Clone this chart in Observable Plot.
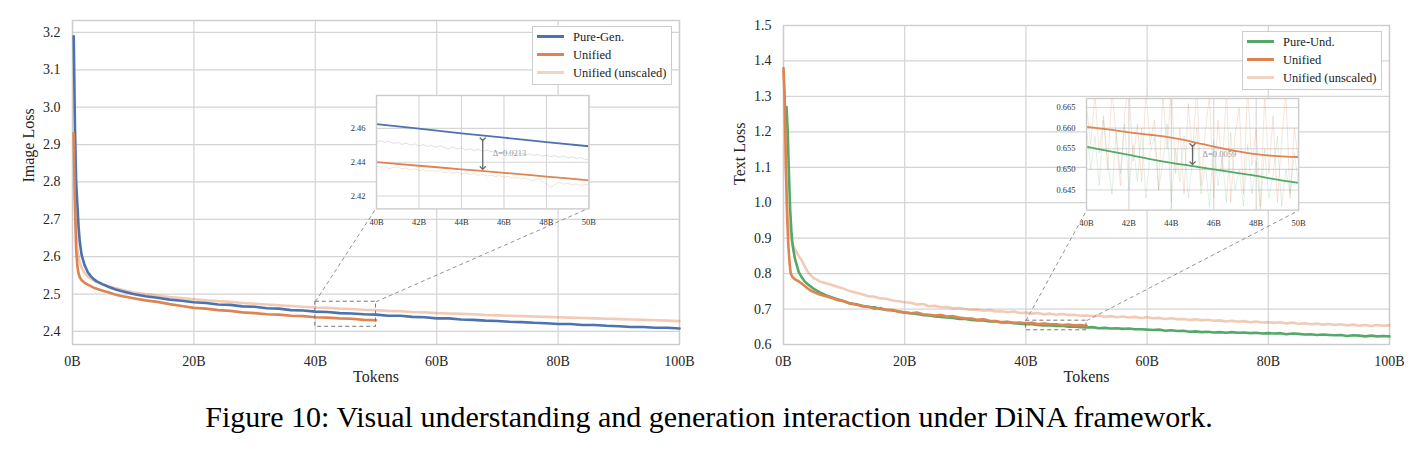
<!DOCTYPE html>
<html><head><meta charset="utf-8">
<script src="https://cdn.jsdelivr.net/npm/d3@7"></script>
<script src="https://cdn.jsdelivr.net/npm/@observablehq/plot@0.6"></script>
<style>
body{margin:0;background:#fff;}
#fig{position:relative;width:1418px;height:451px;overflow:hidden;font-family:"Liberation Serif",serif;background:#fff;}
.panel{position:absolute;top:0;width:718px;height:400px;}
.panel svg{position:absolute;}
.legend{position:absolute;width:140px;height:59px;border:1px solid #ccc;background:#fff;box-sizing:border-box;}
.legend .sw{position:absolute;left:4px;width:27px;height:2.8px;}
.legend .lb{position:absolute;left:40px;font-size:12.5px;line-height:16px;color:#222;white-space:nowrap;}
#caption{position:absolute;left:0;width:1418px;top:399px;text-align:center;font-size:30px;line-height:36px;color:#000;}
</style></head><body>
<div id="fig">
<div id="left" class="panel" style="left:0px"></div>
<div id="right" class="panel" style="left:700px"></div>
<div id="caption">Figure 10: Visual understanding and generation interaction under DiNA framework.</div>
</div>
<script>
const FONT = "Liberation Serif";
const BLUE = "#4C72B0", ORANGE = "#DD8452", GREEN = "#55A868";

// ---------- shared ----------
const mainXTicks = [0, 20, 40, 60, 80, 100];
const insetXTicks = [40, 42, 44, 46, 48, 50];
const insetBox = {x0: 0.5, x1: 0.85, y0: 0.42, y1: 0.77}; // axes fractions

// ---------- left panel (Image Loss) ----------
const imgYTicks = [2.4, 2.5, 2.6, 2.7, 2.8, 2.9, 3.0, 3.1, 3.2];
const imgYDomain = [2.365, 3.232];
const imgEarlyTokens = [0.2, 0.4, 0.6, 0.8, 1.0, 1.2, 1.5, 2, 2.5, 3, 3.5, 4, 5, 6, 7, 8, 9];
const imgTokens = imgEarlyTokens.concat(d3.range(10, 101, 2));
const pureGenLoss = [3.19, 2.95, 2.80, 2.74, 2.68, 2.64, 2.605, 2.577, 2.559, 2.548, 2.540, 2.534, 2.526, 2.519, 2.513, 2.508, 2.504,
  2.500, 2.494, 2.490, 2.485, 2.482, 2.478, 2.476, 2.472, 2.471, 2.467, 2.466, 2.462, 2.461, 2.457, 2.456, 2.453,
  2.452, 2.449, 2.448, 2.446, 2.445, 2.442, 2.442, 2.439, 2.438, 2.435, 2.435, 2.432, 2.431, 2.429, 2.428, 2.426,
  2.425, 2.423, 2.422, 2.420, 2.420, 2.417, 2.417, 2.415, 2.414, 2.412, 2.412, 2.410, 2.410, 2.408];
const unifiedImgLoss = [2.93, 2.74, 2.62, 2.575, 2.555, 2.545, 2.537, 2.530, 2.525, 2.521, 2.517, 2.514, 2.509, 2.504, 2.499, 2.495, 2.492,
  2.489, 2.483, 2.479, 2.473, 2.468, 2.463, 2.461, 2.457, 2.455, 2.451, 2.449, 2.446, 2.445, 2.442, 2.441, 2.438,
  2.437, 2.435, 2.434, 2.431, 2.430];
const unifiedImgRawLoss = [2.93, 2.78, 2.67, 2.62, 2.60, 2.585, 2.57, 2.556, 2.547, 2.541, 2.536, 2.532, 2.526, 2.521, 2.516, 2.512, 2.508,
  2.505, 2.500, 2.496, 2.492, 2.489, 2.486, 2.483, 2.481, 2.479, 2.476, 2.474, 2.472, 2.470, 2.468, 2.466, 2.464,
  2.463, 2.461, 2.460, 2.458, 2.457, 2.455, 2.454, 2.452, 2.451, 2.449, 2.448, 2.447, 2.446, 2.444, 2.443, 2.442,
  2.441, 2.440, 2.439, 2.438, 2.437, 2.436, 2.435, 2.434, 2.433, 2.432, 2.431, 2.430, 2.429, 2.4275];
const imgZoomY = [2.4124, 2.4794];
const imgInsetYTicks = [2.42, 2.44, 2.46];
const imgInsetTokens = [40, 42, 44, 46, 48, 50];
const pureGenInset = [2.4625, 2.4598, 2.4570, 2.4545, 2.4519, 2.4494];
const unifiedImgInset = [2.4400, 2.4379, 2.4358, 2.4337, 2.4315, 2.4293];
const insetRawTokens = d3.range(51).map(i => 40 + i * 0.2);
const pureGenInsetRaw = [2.4520, 2.4527, 2.4517, 2.4523, 2.4511, 2.4517, 2.4505, 2.4513, 2.4501, 2.4508,
  2.4496, 2.4504, 2.4493, 2.4499, 2.4489, 2.4497, 2.4486, 2.4479, 2.4490, 2.4478,
  2.4485, 2.4472, 2.4480, 2.4469, 2.4476, 2.4464, 2.4471, 2.4462, 2.4467, 2.4454,
  2.4462, 2.4451, 2.4458, 2.4446, 2.4453, 2.4443, 2.4450, 2.4439, 2.4446, 2.4435,
  2.4442, 2.4432, 2.4439, 2.4429, 2.4436, 2.4426, 2.4431, 2.4421, 2.4427, 2.4417, 2.4416];
const unifiedImgInsetRaw = [2.4378, 2.4370, 2.4375, 2.4362, 2.4369, 2.4372, 2.4360, 2.4366, 2.4355, 2.4361,
  2.4350, 2.4357, 2.4346, 2.4352, 2.4343, 2.4349, 2.4338, 2.4344, 2.4334, 2.4341,
  2.4330, 2.4337, 2.4327, 2.4333, 2.4322, 2.4330, 2.4318, 2.4325, 2.4316, 2.4321,
  2.4310, 2.4317, 2.4305, 2.4312, 2.4300, 2.4307, 2.4296, 2.4290, 2.4302, 2.4285,
  2.4272, 2.4250, 2.4268, 2.4280, 2.4270, 2.4276, 2.4265, 2.4272, 2.4262, 2.4268, 2.4265];
const imgDelta = [{x: 45, y1: 2.4535, y2: 2.4365, label: "Δ=0.0213"}];

// ---------- right panel (Text Loss) ----------
const txtYTicks = [0.6, 0.7, 0.8, 0.9, 1.0, 1.1, 1.2, 1.3, 1.4, 1.5];
const txtYDomain = [0.6, 1.5];
const undTokens = [0.5, 0.7, 0.9, 1.1, 1.3, 1.5, 1.8, 2, 2.5, 3, 3.5, 4, 5, 6, 7, 8, 9].concat(d3.range(10, 101));
const pureUndLoss = [1.27, 1.20, 1.08, 0.98, 0.92, 0.88, 0.85, 0.835, 0.805, 0.79, 0.778, 0.77, 0.757, 0.747, 0.739, 0.733, 0.727,
  0.722, 0.716, 0.713, 0.709, 0.706, 0.705, 0.700, 0.698, 0.696, 0.693,
  0.690, 0.688, 0.686, 0.683, 0.682, 0.679, 0.678, 0.676, 0.675, 0.672,
  0.672, 0.669, 0.668, 0.668, 0.665, 0.665, 0.662, 0.663, 0.660, 0.659,
  0.657, 0.657, 0.655, 0.654, 0.654, 0.652, 0.653, 0.650, 0.651, 0.649,
  0.648, 0.649, 0.646, 0.647, 0.645, 0.646, 0.644, 0.645, 0.643, 0.643,
  0.642, 0.641, 0.642, 0.639, 0.640, 0.638, 0.639, 0.636, 0.637, 0.635,
  0.636, 0.634, 0.635, 0.633, 0.635, 0.633, 0.634, 0.632, 0.633, 0.631,
  0.632, 0.631, 0.632, 0.629, 0.631, 0.630, 0.628, 0.629, 0.627, 0.628,
  0.627, 0.626, 0.627, 0.624, 0.626, 0.625, 0.623, 0.625, 0.623, 0.624,
  0.623];
const uniTxtTokens = [0, 0.2, 0.4, 0.6, 0.8, 1.0, 1.2, 1.5, 2, 2.5, 3, 3.5, 4, 4.5, 5, 6, 7, 8, 9].concat(d3.range(10, 51));
const unifiedTxtLoss = [1.38, 1.30, 1.10, 0.96, 0.88, 0.83, 0.80, 0.79, 0.783, 0.778, 0.772, 0.765, 0.758, 0.752, 0.748, 0.741, 0.736, 0.731, 0.725,
  0.722, 0.715, 0.714, 0.708, 0.707, 0.701, 0.703, 0.697, 0.698, 0.692,
  0.691, 0.688, 0.690, 0.685, 0.684, 0.682, 0.683, 0.679, 0.680, 0.676,
  0.674, 0.673, 0.670, 0.671, 0.667, 0.666, 0.663, 0.664, 0.661, 0.662,
  0.660, 0.661, 0.658, 0.659, 0.657, 0.657, 0.655, 0.656, 0.654, 0.655,
  0.653];
const rawTxtTokens = [0, 0.2, 0.4, 0.6, 0.8, 1.0, 1.3, 1.6, 2, 2.5, 3, 3.5, 4, 4.5, 5, 6, 7, 8, 9].concat(d3.range(10, 101));
const unifiedTxtRawLoss = [1.37, 1.25, 1.10, 0.99, 0.94, 0.915, 0.895, 0.88, 0.865, 0.85, 0.838, 0.82, 0.805, 0.795, 0.787, 0.778, 0.773, 0.768, 0.762,
  0.757, 0.750, 0.746, 0.742, 0.736, 0.735, 0.730, 0.729, 0.724, 0.722,
  0.719, 0.718, 0.713, 0.714, 0.708, 0.709, 0.705, 0.706, 0.702, 0.703,
  0.700, 0.698, 0.699, 0.695, 0.697, 0.693, 0.694, 0.691, 0.693, 0.689,
  0.690, 0.687, 0.689, 0.685, 0.687, 0.684, 0.686, 0.683, 0.684, 0.681,
  0.682, 0.680, 0.682, 0.678, 0.680, 0.677, 0.679, 0.676, 0.678, 0.675,
  0.677, 0.674, 0.675, 0.672, 0.674, 0.671, 0.672, 0.669, 0.671, 0.668,
  0.670, 0.667, 0.668, 0.665, 0.667, 0.664, 0.666, 0.663, 0.665, 0.662,
  0.663, 0.661, 0.663, 0.659, 0.662, 0.658, 0.660, 0.657, 0.659, 0.656,
  0.658, 0.655, 0.657, 0.654, 0.656, 0.653, 0.655, 0.652, 0.655, 0.653,
  0.654];
const txtZoomY = [0.6401, 0.6672];
const txtInsetYTicks = [0.645, 0.650, 0.655, 0.660, 0.665];
const txtInsetTokens = [40, 41, 42, 43, 44, 45, 46, 47, 48, 49, 50];
const unifiedTxtInset = [0.6603, 0.6597, 0.6590, 0.6584, 0.6577, 0.6567, 0.6555, 0.6545, 0.6537, 0.6532, 0.6530];
const pureUndInset = [0.6555, 0.6545, 0.6535, 0.6525, 0.6516, 0.6508, 0.6500, 0.6492, 0.6484, 0.6475, 0.6467];
const unifiedTxtInsetRaw = [0.6650, 0.6560, 0.6680, 0.6540, 0.6630, 0.6500, 0.6690, 0.6580, 0.6460, 0.6640,
  0.6700, 0.6520, 0.6610, 0.6470, 0.6690, 0.6560, 0.6620, 0.6450, 0.6680, 0.6550,
  0.6700, 0.6490, 0.6600, 0.6440, 0.6660, 0.6540, 0.6700, 0.6460, 0.6590, 0.6680,
  0.6430, 0.6620, 0.6500, 0.6690, 0.6420, 0.6580, 0.6650, 0.6440, 0.6700, 0.6510,
  0.6600, 0.6410, 0.6680, 0.6490, 0.6630, 0.6420, 0.6570, 0.6690, 0.6430, 0.6600, 0.6520];
const pureUndInsetRaw = [0.6600, 0.6500, 0.6580, 0.6460, 0.6620, 0.6520, 0.6440, 0.6590, 0.6490, 0.6610,
  0.6450, 0.6560, 0.6470, 0.6600, 0.6430, 0.6540, 0.6580, 0.6450, 0.6520, 0.6610,
  0.6420, 0.6550, 0.6470, 0.6580, 0.6430, 0.6520, 0.6600, 0.6440, 0.6510, 0.6410,
  0.6570, 0.6460, 0.6530, 0.6420, 0.6590, 0.6450, 0.6500, 0.6410, 0.6560, 0.6440,
  0.6520, 0.6400, 0.6550, 0.6430, 0.6490, 0.6580, 0.6410, 0.6500, 0.6440, 0.6540, 0.6460];
const txtDelta = [{x: 45, y1: 0.6559, y2: 0.6515, label: "Δ=0.0059"}];

// ---------- helpers ----------
const rows = (xs, ys) => xs.map((x, i) => ({x, y: ys[i]})).filter(d => d.y != null);
const bfmt = d => d + "B";

function buildPanel(cfg) {
  const el = document.getElementById(cfg.id);
  const xDomain = [0, 100];
  const fx = f => xDomain[0] + f * (xDomain[1] - xDomain[0]);
  const fy = f => cfg.yDomain[0] + f * (cfg.yDomain[1] - cfg.yDomain[0]);
  const connectors = [
    {x1: insetXTicks[0], y1: cfg.zoomY[1], x2: fx(insetBox.x0), y2: fy(insetBox.y0)},
    {x1: insetXTicks[insetXTicks.length - 1], y1: cfg.zoomY[1], x2: fx(insetBox.x1), y2: fy(insetBox.y0)}
  ];
  const zoomRect = [{x1: insetXTicks[0], x2: insetXTicks[insetXTicks.length - 1], y1: cfg.zoomY[0], y2: cfg.zoomY[1]}];
  const main = Plot.plot({
    width: cfg.width, height: 390,
    marginLeft: cfg.ml, marginRight: cfg.mr, marginTop: cfg.mt, marginBottom: 46,
    style: {fontFamily: FONT, fontSize: "14px", color: "#262626", background: "transparent", overflow: "visible"},
    x: {domain: xDomain},
    y: {domain: cfg.yDomain},
    marks: [
      Plot.gridX(mainXTicks, {stroke: "#d4d4d4", strokeOpacity: 1, strokeWidth: 1.2}),
      Plot.gridY(cfg.yTicks, {stroke: "#d4d4d4", strokeOpacity: 1, strokeWidth: 1.2}),
      Plot.frame({stroke: "#cccccc", strokeWidth: 1.4}),
      Plot.axisX(mainXTicks, {tickSize: 0, tickPadding: 12, tickFormat: bfmt, label: null}),
      Plot.axisY(cfg.yTicks, {tickSize: 0, tickPadding: 12, tickFormat: d3.format(".1f"), label: null}),
      ...cfg.series.map(s => Plot.line(rows(s.x, s.y), {x: "x", y: "y", stroke: s.color, strokeOpacity: s.opacity, strokeWidth: 2.6})),
      Plot.rect(zoomRect, {x1: "x1", x2: "x2", y1: "y1", y2: "y2", fill: "none", stroke: "#777", strokeWidth: 1, strokeDasharray: "4,3"}),
      Plot.link(connectors, {x1: "x1", y1: "y1", x2: "x2", y2: "y2", stroke: "#888", strokeWidth: 0.9, strokeDasharray: "4,3"}),
      Plot.text(["Tokens"], {text: d => d, frameAnchor: "bottom", dy: 37, fontSize: 16, fill: "#262626"}),
      Plot.text([cfg.yLabel], {text: d => d, frameAnchor: "left", dx: -44, rotate: -90, fontSize: 16, fill: "#262626"})
    ]
  });
  main.style.left = "0px"; main.style.top = "0px";
  el.appendChild(main);

  const sx = main.scale("x"), sy = main.scale("y");
  const xr = sx.range, yr = sy.range;
  const frameRight = Math.max(xr[0], xr[1]), frameTop = Math.min(yr[0], yr[1]);
  const L = sx.apply(fx(insetBox.x0)), R = sx.apply(fx(insetBox.x1));
  const T = sy.apply(fy(insetBox.y1)), B = sy.apply(fy(insetBox.y0));
  const iml = 44, imr = 20, imt = 4, imb = 26;
  const ins = cfg.inset;
  const inset = Plot.plot({
    width: R - L + iml + imr, height: B - T + imt + imb,
    marginLeft: iml, marginRight: imr, marginTop: imt, marginBottom: imb,
    style: {fontFamily: FONT, fontSize: "8.5px", color: "#333", background: "transparent", overflow: "visible"},
    x: {domain: [insetXTicks[0], insetXTicks[insetXTicks.length - 1]]},
    y: {domain: cfg.zoomY},
    marks: [
      Plot.frame({fill: "white"}),
      Plot.gridX(insetXTicks, {stroke: "#d6d6d6", strokeOpacity: 1, strokeWidth: 1.1}),
      Plot.gridY(ins.yTicks, {stroke: "#d6d6d6", strokeOpacity: 1, strokeWidth: 1.1}),
      Plot.axisX(insetXTicks, {tickSize: 0, tickPadding: 10, tickFormat: bfmt, label: null}),
      Plot.axisY(ins.yTicks, {tickSize: 0, tickPadding: 11, tickFormat: d3.format(ins.fmt), label: null}),
      ...ins.raw.map(s => Plot.line(rows(insetRawTokens, s.y), {x: "x", y: "y", stroke: s.color, strokeOpacity: s.opacity, strokeWidth: 1, clip: true})),
      ...ins.smooth.map(s => Plot.line(rows(ins.tokens, s.y), {x: "x", y: "y", stroke: s.color, strokeWidth: 1.8, curve: "monotone-x", clip: true})),
      Plot.frame({stroke: "#cccccc", strokeWidth: 1.4}),
      Plot.link(ins.delta, {x1: "x", x2: "x", y1: "y1", y2: "y2", stroke: "#666", strokeWidth: 1.3, markerStart: "arrow", markerEnd: "arrow"}),
      Plot.text(ins.delta, {x: "x", y: d => (d.y1 + d.y2) / 2, text: "label", dx: 10, textAnchor: "start", fill: "#999", fontSize: 8.5})
    ]
  });
  inset.style.left = (L - iml) + "px"; inset.style.top = (T - imt) + "px";
  el.appendChild(inset);

  // legend
  const lg = document.createElement("div");
  lg.className = "legend";
  lg.style.left = (frameRight - 7 - 140) + "px";
  lg.style.top = (frameTop + 6) + "px";
  cfg.legend.forEach((item, i) => {
    const cy = 9.5 + i * 18;
    const sw = document.createElement("div");
    sw.className = "sw"; sw.style.top = (cy - 1.4) + "px";
    sw.style.background = item.color; sw.style.opacity = item.opacity;
    const lb = document.createElement("div");
    lb.className = "lb"; lb.style.top = (cy - 8) + "px"; lb.textContent = item.label;
    lg.appendChild(sw); lg.appendChild(lb);
  });
  el.appendChild(lg);
}

buildPanel({
  id: "left", width: 700, ml: 72, mr: 21, mt: 20,
  yDomain: imgYDomain, yTicks: imgYTicks, yLabel: "Image Loss", zoomY: imgZoomY,
  series: [
    {x: imgTokens, y: unifiedImgRawLoss, color: ORANGE, opacity: 0.42},
    {x: imgTokens, y: pureGenLoss, color: BLUE, opacity: 1},
    {x: imgTokens, y: unifiedImgLoss, color: ORANGE, opacity: 1}
  ],
  inset: {
    yTicks: imgInsetYTicks, fmt: ".2f", tokens: imgInsetTokens, delta: imgDelta,
    raw: [{y: pureGenInsetRaw, color: BLUE, opacity: 0.22}, {y: unifiedImgInsetRaw, color: ORANGE, opacity: 0.25}],
    smooth: [{y: pureGenInset, color: BLUE}, {y: unifiedImgInset, color: ORANGE}]
  },
  legend: [
    {label: "Pure-Gen.", color: BLUE, opacity: 1},
    {label: "Unified", color: ORANGE, opacity: 1},
    {label: "Unified (unscaled)", color: ORANGE, opacity: 0.35}
  ]
});

buildPanel({
  id: "right", width: 718, ml: 83, mr: 29, mt: 25,
  yDomain: txtYDomain, yTicks: txtYTicks, yLabel: "Text Loss", zoomY: txtZoomY,
  series: [
    {x: rawTxtTokens, y: unifiedTxtRawLoss, color: ORANGE, opacity: 0.42},
    {x: undTokens, y: pureUndLoss, color: GREEN, opacity: 1},
    {x: uniTxtTokens, y: unifiedTxtLoss, color: ORANGE, opacity: 1}
  ],
  inset: {
    yTicks: txtInsetYTicks, fmt: ".3f", tokens: txtInsetTokens, delta: txtDelta,
    raw: [{y: unifiedTxtInsetRaw, color: ORANGE, opacity: 0.22}, {y: pureUndInsetRaw, color: GREEN, opacity: 0.18}],
    smooth: [{y: unifiedTxtInset, color: ORANGE}, {y: pureUndInset, color: GREEN}]
  },
  legend: [
    {label: "Pure-Und.", color: GREEN, opacity: 1},
    {label: "Unified", color: ORANGE, opacity: 1},
    {label: "Unified (unscaled)", color: ORANGE, opacity: 0.35}
  ]
});
</script>
</body></html>
